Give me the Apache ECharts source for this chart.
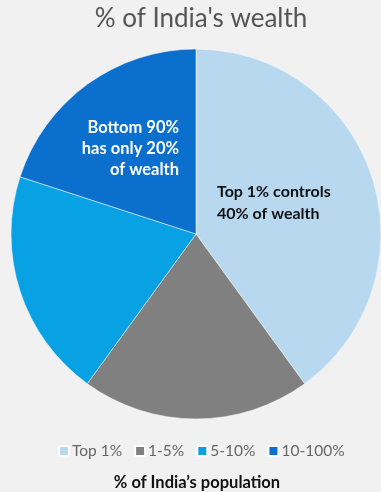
<!DOCTYPE html>
<html><head><meta charset="utf-8">
<script src="https://cdn.jsdelivr.net/npm/echarts@6/dist/echarts.min.js"></script>
<style>html,body{margin:0;padding:0;background:#f1f1f1;}#c{width:381px;height:492px;}</style>
</head><body><div id="c"></div>
<script>
const categories = ['Top 1%', '1-5%', '5-10%', '10-100%'];
const wealthShare = [40, 20, 20, 20];
const colors = ['#b8d8ef', '#808080', '#08a1e3', '#0a6fcd'];

const chart = echarts.init(document.getElementById('c'));
chart.setOption({
  backgroundColor: '#f1f1f1',
  animation: false,
  title: {
    text: "% of India's wealth",
    left: 196, textAlign: 'center', top: 1,
    textStyle: { fontFamily: 'Lato', fontWeight: 'normal', fontSize: 26, color: '#555' }
  },
  legend: {
    bottom: 28, left: 53,
    itemWidth: 10, itemHeight: 10, itemGap: 12,
    icon: 'rect',
    textStyle: { fontFamily: 'Lato', fontSize: 15.5, color: '#666', padding: [0, 0, 0, -2] },
    data: categories
  },
  graphic: [
    { type: 'text', x: 197, y: 474,
      style: { text: "% of India’s population", font: 'bold 16.5px Lato', fill: '#111', align: 'center' } },
    { type: 'text', x: 179, y: 117, z: 10,
      style: { text: 'Bottom 90%\nhas only 20%\nof wealth', font: 'bold 16.5px Lato', fill: '#fff', align: 'right', lineHeight: 21 } },
    { type: 'text', x: 217, y: 181, z: 10,
      style: { text: 'Top 1% controls\n40% of wealth', font: 'bold 16px Lato', fill: '#111', align: 'left', lineHeight: 22 } }
  ],
  series: [{
    type: 'pie',
    center: [196, 234],
    radius: [0, 185],
    startAngle: 90,
    clockwise: true,
    label: { show: false },
    labelLine: { show: false },
    itemStyle: { borderColor: '#ffffff', borderWidth: 0.5 },
    emphasis: { disabled: true },
    data: categories.map((c, i) => ({ name: c, value: wealthShare[i], itemStyle: { color: colors[i] } }))
  }]
});
</script></body></html>
